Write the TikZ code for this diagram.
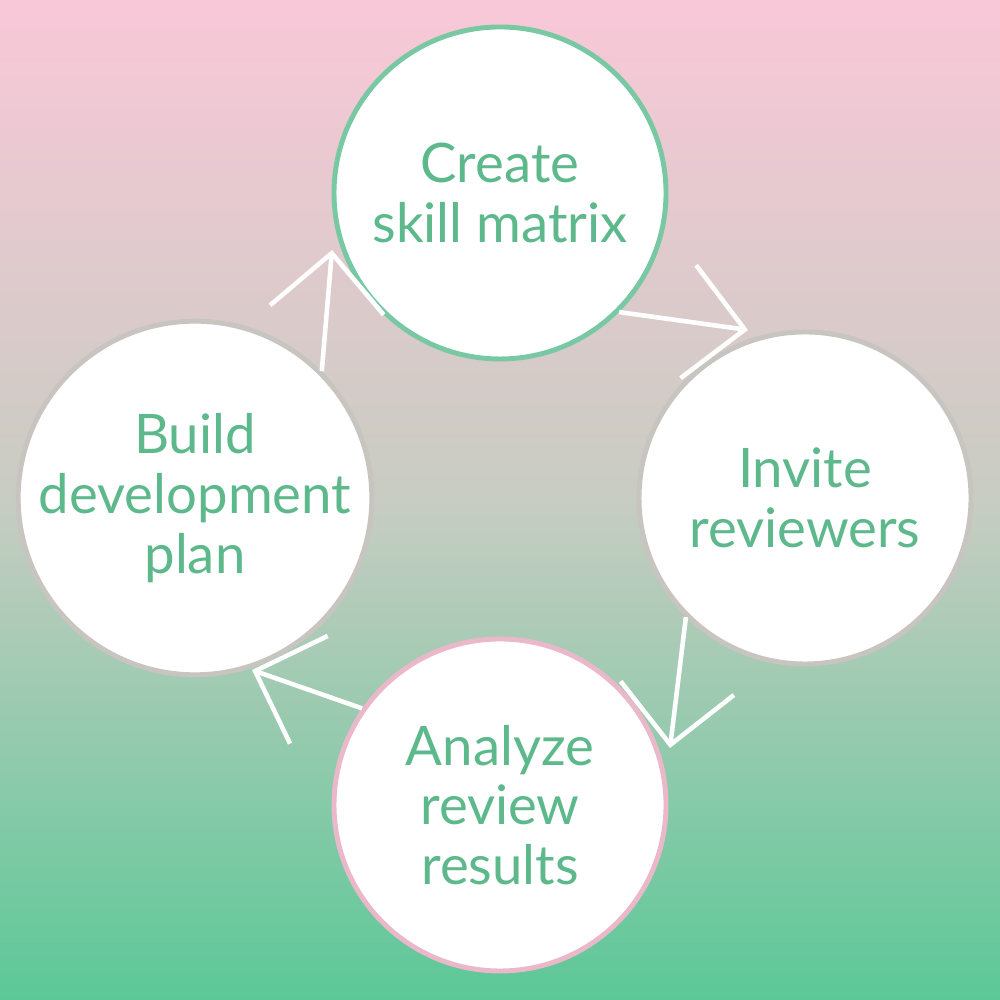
\documentclass[tikz,border=0pt]{standalone}
\usepackage{fontspec}
\setmainfont{Lato}
\usetikzlibrary{arrows.meta, positioning}
\definecolor{bgtop}{HTML}{F9C8D8}
\definecolor{bgmid}{HTML}{C8CCC2}
\definecolor{bgbot}{HTML}{5CC898}
\definecolor{txtgreen}{HTML}{5DB88C}
\definecolor{ringgreen}{HTML}{78C8A4}
\definecolor{ringgray}{HTML}{C8C4C0}
\definecolor{ringpink}{HTML}{EAB8C8}
\tikzset{
  stage/.style={circle, fill=white, minimum size=3.32cm, inner sep=0pt,
    line width=1.4pt, text=txtgreen, align=center,
    font=\fontsize{15.5}{17}\selectfont},
  flow/.style={draw=white, line width=1.3pt,
    -{Straight Barb[length=0.57cm, width=1.14cm, line width=1.3pt]}}
}
\begin{document}
\begin{tikzpicture}
  \useasboundingbox (0, 0) rectangle (10, 10);
  \shade[top color=bgtop, bottom color=bgbot, middle color=bgmid] (0, 0) rectangle (10, 10);
  \node[stage, draw=ringgreen] (create) at (5, 8.07) {Create\\skill matrix};
  \node[stage, draw=ringgray] (invite) at (8.05, 5.02) {Invite\\reviewers};
  \node[stage, draw=ringpink] (analyze) at (5, 1.95) {Analyze\\review\\results};
  \node[stage, draw=ringgray] (build) at (1.95, 5.02) {Build\\development\\plan};
  % arrow tips
  \coordinate (tipA) at (7.48, 6.70);
  \coordinate (tipB) at (6.70, 2.52);
  \coordinate (tipC) at (2.52, 3.30);
  \coordinate (tipD) at (3.32, 7.50);
  \draw[flow] (create.-45) -- (tipA);
  \draw[flow] (invite.-135) -- (tipB);
  \draw[flow] (analyze.145) -- (tipC);
  \draw[flow] (build.45) -- (tipD);
\end{tikzpicture}
\end{document}
